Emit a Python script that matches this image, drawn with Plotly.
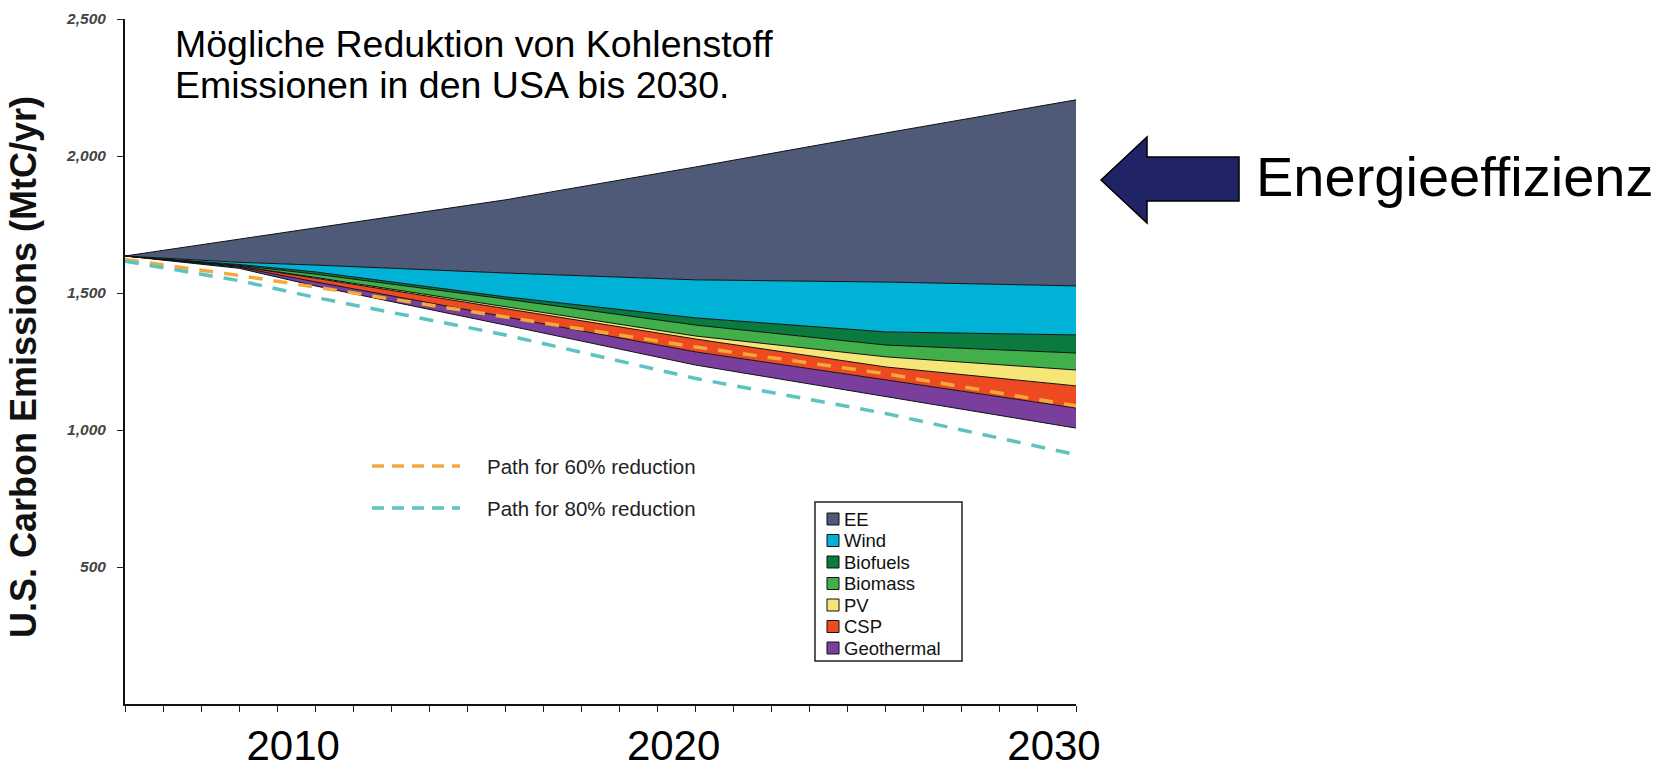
import plotly.graph_objects as go

# ---------------- data ----------------
years = [2005, 2008, 2010, 2015, 2020, 2025, 2030]
remaining = [1635, 1590, 1526, 1383, 1237, 1121, 1007]   # bottom of the wedge stack
geothermal = [0, 4, 15, 30, 48, 62, 73]
csp = [0, 3, 13, 29, 47, 47, 81]
pv = [0, 1, 3, 7, 11, 37, 58]
biomass = [0, 3, 12, 29, 40, 43, 62]
biofuels = [0, 3, 8, 8, 26, 48, 66]
wind = [0, 8, 25, 87, 139, 182, 179]
ee = [0, 84, 135, 267, 412, 544, 679]

series_names = ["EE", "Wind", "Biofuels", "Biomass", "PV", "CSP", "Geothermal"]
series_colors = ["#4e5a78", "#00b2d6", "#0a7a3e", "#41b04a", "#f6e678", "#ee4a22", "#7a3f9d"]

path_years = [2005, 2008, 2010, 2015, 2020, 2025, 2030]
path60 = [1622, 1564, 1522, 1413, 1303, 1205, 1088]
path80 = [1616, 1545, 1484, 1347, 1188, 1060, 910]
path_names = ["Path for 60% reduction", "Path for 80% reduction"]
path_colors = ["#f2a93b", "#5cc3c0"]

y_tick_vals = [500, 1000, 1500, 2000, 2500]
y_tick_text = ["500", "1,000", "1,500", "2,000", "2,500"]
x_tick_vals = [2010, 2020, 2030]
x_tick_text = ["2010", "2020", "2030"]

title_lines = ["Mögliche Reduktion von Kohlenstoff", "Emissionen in den USA bis 2030."]
y_title = "U.S. Carbon Emissions (MtC/yr)"
arrow_label = "Energieeffizienz"

series_values = dict(zip(series_names, [ee, wind, biofuels, biomass, pv, csp, geothermal]))
color_of = dict(zip(series_names, series_colors))

# ---------------- layout geometry (pixels) ----------------
W, H = 1668, 774
L, R, T, B = 125, 1076, 19, 704


def px(x):
    return (x - L) / (R - L)


def py(y):
    return (B - y) / (B - T)


FONT = "Liberation Sans, Arial, Helvetica, sans-serif"

fig = go.Figure()

# base (invisible fill) so the wedges sit on the remaining emissions
fig.add_trace(go.Scatter(x=years, y=remaining, stackgroup="s", mode="lines",
                         line=dict(color="#111111", width=1),
                         fillcolor="rgba(0,0,0,0)", showlegend=False,
                         hoverinfo="skip", name="Remaining"))
for name in reversed(series_names):
    fig.add_trace(go.Scatter(x=years, y=series_values[name], stackgroup="s",
                             mode="lines", name=name,
                             line=dict(color="#111111", width=1),
                             fillcolor=color_of[name], showlegend=False))

for name, vals, col in zip(path_names, [path60, path80], path_colors):
    fig.add_trace(go.Scatter(x=path_years, y=vals, mode="lines", name=name,
                             line=dict(color=col, width=3.5, dash="14px,11px"),
                             showlegend=False))

shapes = []
annotations = []

# title text
for i, line in enumerate(title_lines):
    annotations.append(dict(x=px(173), y=py(44 + i * 41), xref="paper", yref="paper",
                            text=line, showarrow=False, xanchor="left", yanchor="middle",
                            font=dict(family=FONT, size=37.5, color="#000")))

# y-axis title
annotations.append(dict(x=px(24), y=py(367), xref="paper", yref="paper", text=y_title,
                        textangle=-90, showarrow=False, xanchor="center", yanchor="middle",
                        font=dict(family=FONT, size=36, color="#111", weight="bold")))

# dashed-line legend
for i, (name, col) in enumerate(zip(path_names, path_colors)):
    yc = 466 + i * 42
    shapes.append(dict(type="line", xref="paper", yref="paper", x0=px(372), x1=px(460),
                       y0=py(yc), y1=py(yc), line=dict(color=col, width=3.5, dash="12px,8px")))
    annotations.append(dict(x=px(485), y=py(yc), xref="paper", yref="paper", text=name,
                            showarrow=False, xanchor="left", yanchor="middle",
                            font=dict(family=FONT, size=20.5, color="#222")))

# boxed legend for the wedges
shapes.append(dict(type="rect", xref="paper", yref="paper", x0=px(815), x1=px(962),
                   y0=py(661), y1=py(502), line=dict(color="#222", width=1.5),
                   fillcolor="white", layer="above"))
for i, name in enumerate(series_names):
    yc = 519 + i * 21.5
    shapes.append(dict(type="rect", xref="paper", yref="paper", x0=px(827), x1=px(839),
                       y0=py(yc + 6), y1=py(yc - 6), line=dict(color="#111", width=1),
                       fillcolor=color_of[name], layer="above"))
    annotations.append(dict(x=px(842), y=py(yc), xref="paper", yref="paper", text=name,
                            showarrow=False, xanchor="left", yanchor="middle",
                            font=dict(family=FONT, size=18.5, color="#111")))

# block arrow pointing at the EE wedge
pts = [(1101, 180), (1147, 137), (1147, 157), (1239, 157), (1239, 201), (1147, 201), (1147, 223)]
path = "M " + " L ".join(f"{px(x):.5f},{py(y):.5f}" for x, y in pts) + " Z"
shapes.append(dict(type="path", xref="paper", yref="paper", path=path,
                   fillcolor="#202466", line=dict(color="#000", width=1.5)))
annotations.append(dict(x=px(1254), y=py(176), xref="paper", yref="paper", text=arrow_label,
                        showarrow=False, xanchor="left", yanchor="middle",
                        font=dict(family=FONT, size=56, color="#000")))

fig.update_layout(
    width=W, height=H,
    margin=dict(l=L, r=W - R, t=T, b=H - B, pad=0),
    paper_bgcolor="white", plot_bgcolor="white",
    showlegend=False,
    shapes=shapes, annotations=annotations,
    xaxis=dict(range=[2005, 2030], tickvals=x_tick_vals, ticktext=x_tick_text,
               automargin=False,
               ticks="outside", ticklen=6, tickwidth=1, tickcolor="#222",
               showline=True, linecolor="#111", linewidth=2,
               showgrid=False, zeroline=False,
               tickfont=dict(family=FONT, size=42, color="#000"),
               ticklabelstandoff=-2, ticklabelshift=-22,
               minor=dict(dtick=1, tick0=2005, ticks="outside", ticklen=6,
                          tickcolor="#222", showgrid=False)),
    yaxis=dict(range=[0, 2500], tickvals=y_tick_vals, ticktext=y_tick_text,
               automargin=False,
               ticks="outside", ticklen=6, tickwidth=1, tickcolor="#222",
               showline=True, linecolor="#111", linewidth=2,
               showgrid=False, zeroline=False, ticklabelstandoff=8,
               tickfont=dict(family=FONT, size=15.5, color="#444", style="italic", weight="bold")),
)

fig.write_html("out.html", config={"displayModeBar": False},
               post_script="document.body.style.margin='0';document.body.style.overflow='hidden';")
